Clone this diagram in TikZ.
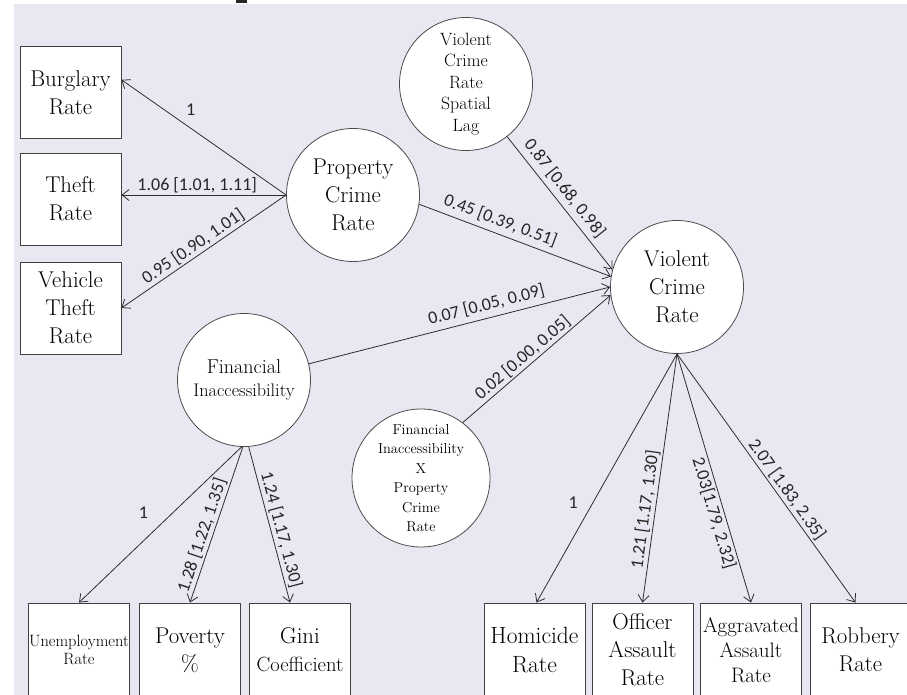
\documentclass[tikz,border=0pt]{standalone}
\usepackage{fontspec}
\newfontfamily\lblfont{Carlito}
\usetikzlibrary{arrows.meta,calc}
\definecolor{bgc}{RGB}{232,232,242}
\definecolor{edgec}{RGB}{45,45,45}
\begin{document}
\begin{tikzpicture}[x=1pt,y=-1pt,
  box/.style={draw=black!75, line width=0.9pt, fill=white, minimum width=101pt, minimum height=92pt, inner sep=1pt, align=center},
  bbox/.style={box, minimum height=94pt},
  circ/.style={circle, draw=black!70, line width=0.8pt, fill=white, minimum size=133pt, inner sep=0pt, align=center},
  big/.style={font=\fontsize{22.8}{28}\selectfont},
  lab/.style={font=\lblfont\fontsize{18}{20}\selectfont, inner sep=2pt, text=black!85},
  arr/.style={draw=edgec, line width=0.8pt, -{Straight Barb[length=7pt,width=11pt]}}
]
\useasboundingbox (0,0) rectangle (907,695);
\fill[bgc] (14,4) rectangle (907,695);
\fill[black!85] (236,0) rectangle (247,2.7);

% left indicator boxes
\node[box, big] (bur) at (70.5,92.5) {Burglary\\Rate};
\node[box, big] (the) at (70.5,199) {Theft\\Rate};
\node[box, big] (veh) at (70.5,308) {Vehicle\\Theft\\Rate};

% latent / observed circles
\node[circ, big] (pc) at (353,195) {Property\\Crime\\Rate};
\node[circ, font=\fontsize{17.8}{21.5}\selectfont] (sl) at (466,84) {Violent\\Crime\\Rate\\Spatial\\Lag};
\node[circ, big] (vc) at (677,287) {Violent\\Crime\\Rate};
\node[circ, font=\fontsize{18.2}{23}\selectfont] (fi) at (244,380) {{\fontsize{20.1}{23}\selectfont Financial}\\Inaccessibility};
\node[circ, font=\fontsize{14.4}{19.5}\selectfont] (fx) at (421,478) {Financial\\Inaccessibility\\X\\Property\\Crime\\Rate};

% bottom indicator boxes
\node[bbox, font=\fontsize{16.4}{18.5}\selectfont] (un) at (79,650) {Unemployment\\Rate};
\node[bbox, big] (pov) at (190,650) {Poverty\\\%};
\node[bbox, big] (gini) at (300,650) {Gini\\{\fontsize{20.6}{28}\selectfont Coefficient}};
\node[bbox, font=\fontsize{23.5}{29}\selectfont] (hom) at (534.5,650) {Homicide\\Rate};
\node[bbox, big] (off) at (642.5,650) {Officer\\Assault\\Rate};
\node[bbox, font=\fontsize{21}{25}\selectfont] (agg) at (751,650) {Aggravated\\Assault\\Rate};
\node[bbox, big] (rob) at (860.5,650) {Robbery\\Rate};

% property crime measurement
\draw[arr] (pc.west) -- (bur.14) node[lab, pos=0.58, above, yshift=10pt] {1};
\draw[arr] (pc.west) -- (pc.west -| the.east) node[lab, pos=0.54, above] {1.06 [1.01, 1.11]};
\draw[arr] (pc.west) -- (veh.east) node[lab, pos=0.53, sloped, above] {0.95 [0.90, 1.01]};

% structural paths into violent crime
\draw[arr] (sl.-52) -- (vc.165) node[lab, pos=0.45, sloped, above=3pt] {0.87 [0.68, 0.98]};
\draw[arr] (pc.-8) -- (vc.171) node[lab, pos=0.4, sloped, above=3pt] {0.45 [0.39, 0.51]};
\draw[arr] (fi.14) -- (vc.180) node[lab, pos=0.6, sloped, above=3pt] {0.07 [0.05, 0.09]};
\draw[arr] (fx.53) -- (vc.187) node[lab, pos=0.45, sloped, above] {0.02 [0.00, 0.05]};

% financial inaccessibility measurement
\draw[arr] (fi.-92) -- (un.north) node[lab, pos=0.42, left=23pt] {1};
\draw[arr] (fi.-91) -- (pov.north) node[lab, pos=0.59, sloped, above] {1.28 [1.22, 1.35]};
\draw[arr] (fi.-86) -- ($(gini.north)+(-10,0)$) node[lab, pos=0.55, sloped, above] {1.24 [1.17, 1.30]};

% violent crime measurement
\draw[arr] (vc.south) -- ($(hom.north)+(2,0)$) node[lab, pos=0.6, left=12.5pt] {1};
\draw[arr] (vc.south) -- (off.north) node[lab, pos=0.63, sloped, above=0pt] {1.21 [1.17, 1.30]};
\draw[arr] (vc.south) -- (agg.north) node[lab, pos=0.63, sloped, below] {2.03[1.79, 2.32]};
\draw[arr] (vc.south) -- ($(rob.north)+(-5,0)$) node[lab, pos=0.57, sloped, above] {2.07 [1.83, 2.35]};
\end{tikzpicture}
\end{document}
